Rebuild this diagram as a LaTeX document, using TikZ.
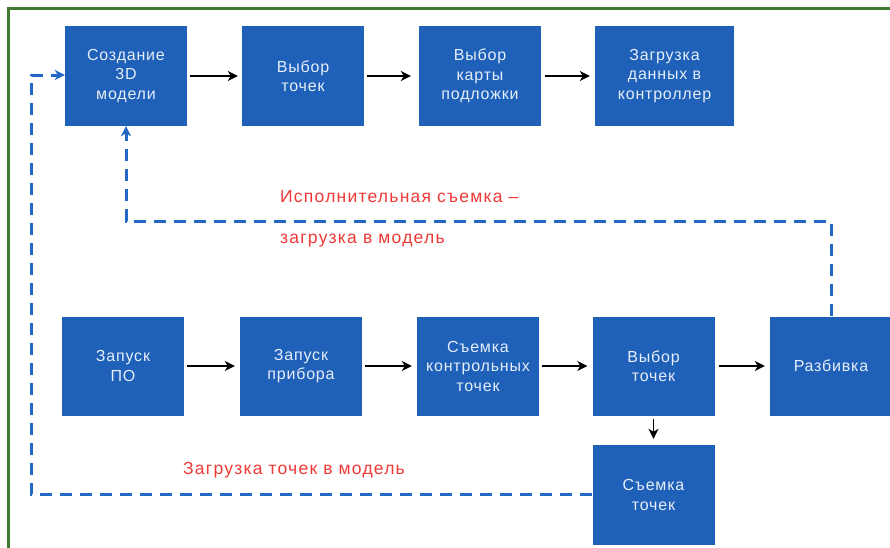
\documentclass[tikz,border=0pt]{standalone}
\usepackage{fontspec}
\setmainfont{Liberation Sans}
\newfontfamily\boxfont[LetterSpace=5]{Liberation Sans}
\newfontfamily\notefont[LetterSpace=7]{Liberation Sans}
\usetikzlibrary{arrows.meta}

\definecolor{stepblue}{HTML}{1F60B8}
\definecolor{boxtext}{HTML}{E6EEFA}
\definecolor{loopblue}{HTML}{2268C4}
\definecolor{notered}{HTML}{EE3A36}
\definecolor{framegreen}{HTML}{3F7A30}

\tikzset{
  stepbox/.style={draw=none, fill=stepblue, text=boxtext, align=center,
    minimum width=122pt, minimum height=100pt, inner sep=2pt,
    font=\boxfont\fontsize{16}{19.5}\selectfont},
  flow/.style={draw=black, line width=1.6pt,
    -{Stealth[length=10pt,width=10pt,inset=3pt]}},
  loop/.style={draw=loopblue, line width=3pt, dash pattern=on 12pt off 8pt,
    -{Stealth[length=10pt,width=10pt,inset=3pt]}},
  note/.style={text=notered, anchor=west, inner sep=0pt,
    font=\notefont\fontsize{17.5}{20}\selectfont}
}

\begin{document}
\begin{tikzpicture}[x=1pt,y=-1pt]
  \useasboundingbox (0,0) rectangle (890,547);
  \fill[white] (0,0) rectangle (890,547);
  \begin{scope}
    \clip (0,0) rectangle (890,547);
    % outer frame, running past the right and bottom edges
    \draw[framegreen, line width=3pt] (8.5,8.5) rectangle (905,565);

    % design stage
    \node[stepbox] (model)  at (126,76)   {Создание\\3D\\модели};
    \node[stepbox] (pick1)  at (303,76)   {Выбор\\точек};
    \node[stepbox] (map)    at (480,76)   {Выбор\\карты\\подложки};
    \node[stepbox, minimum width=139pt] (upload) at (664.5,76) {Загрузка\\данных в\\контроллер};

    % field stage
    \node[stepbox, minimum height=99pt] (start)  at (123,366) {Запуск\\ПО};
    \node[stepbox, minimum height=99pt] (device) at (301,366) {Запуск\\прибора};
    \node[stepbox, minimum height=99pt] (ctrl)   at (478,366) {Съемка\\контрольных\\точек};
    \node[stepbox, minimum height=99pt] (pick2)  at (653.5,366) {Выбор\\точек};
    \node[stepbox, minimum height=99pt] (stake)  at (831,366) {Разбивка};
    \node[stepbox] (survey) at (653.5,495) {Съемка\\точек};

    % main flow
    \draw[flow] (model.east)  ++(3,0) -- ([xshift=-4pt]pick1.west);
    \draw[flow] (pick1.east)  ++(3,0) -- ([xshift=-8pt]map.west);
    \draw[flow] (map.east)    ++(4,0) -- ([xshift=-5pt]upload.west);

    \draw[flow] (start.east)  ++(3,0) -- ([xshift=-5pt]device.west);
    \draw[flow] (device.east) ++(3,0) -- ([xshift=-5pt]ctrl.west);
    \draw[flow] (ctrl.east)   ++(3,0) -- ([xshift=-5pt]pick2.west);
    \draw[flow] (pick2.east)  ++(4,0) -- ([xshift=-5pt]stake.west);
    \draw[flow] (pick2.south) ++(0,3) -- ([yshift=6pt]survey.north);

    % feedback loops
    \coordinate (asbuiltR) at (831,221);
    \coordinate (asbuiltL) at (126,221);
    \draw[loop] (stake.north) -- (asbuiltR) -- (asbuiltL) -- (model.south);

    \coordinate (pointsB) at (31,494);
    \coordinate (pointsT) at (31,75);
    \draw[loop] (survey.west |- pointsB) -- (pointsB) -- (pointsT) -- (model.west |- pointsT);

    % loop labels
    \node[note] (asbuilt1) at (280,197) {Исполнительная съемка –};
    \node[note] (asbuilt2) at (280,241) {загрузка в модель};
    \node[note] (points)   at (183,470) {Загрузка точек в модель};
  \end{scope}
\end{tikzpicture}
\end{document}
